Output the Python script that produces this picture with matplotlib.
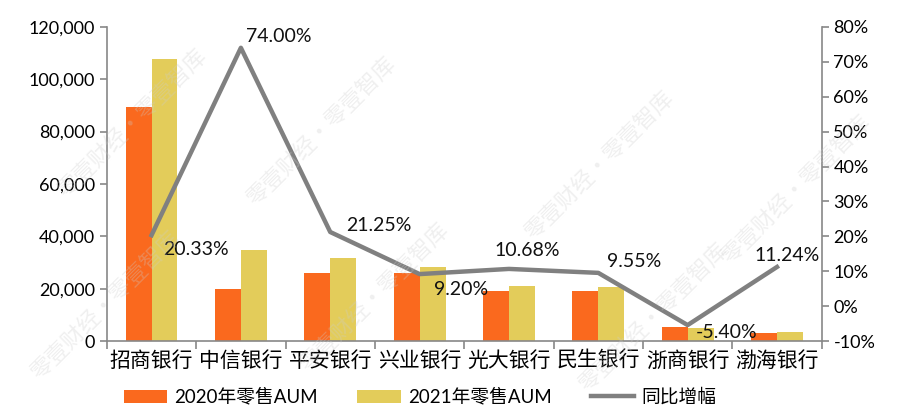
import matplotlib.pyplot as plt
from matplotlib.ticker import FuncFormatter
import numpy as np

plt.rcParams['font.family'] = ['Lato', 'Noto Sans CJK SC', 'DejaVu Sans']

banks = ['招商银行', '中信银行', '平安银行', '兴业银行', '光大银行', '民生银行', '浙商银行', '渤海银行']
aum_2020 = [89500, 20000, 26100, 26000, 19000, 19000, 5500, 3000]
aum_2021 = [107600, 34800, 31600, 28400, 21000, 20800, 5200, 3300]
growth = [20.33, 74.00, 21.25, 9.20, 10.68, 9.55, -5.40, 11.24]
# label offsets in points (dx, dy)
label_off = [(32, -10), (27, 8), (35, 5), (30, -11), (13, 13), (26, 8), (28, -5), (7, 8)]

c2020 = '#FA691E'
c2021 = '#E3CC5A'
cline = '#808080'
axc = '#888888'

fig = plt.figure(figsize=(8.98, 4.13), dpi=100)

# watermark
for x0, y0 in [(0.03, 0.08), (0.27, 0.50), (0.33, 0.10), (0.58, 0.42), (0.64, 0.05), (0.80, 0.36), (0.06, 0.52)]:
    fig.text(x0, y0, '零壹财经·零壹智库', rotation=45, fontsize=16, color='#cccccc',
             alpha=0.3, family=['Noto Sans CJK SC'], zorder=0)

ax = fig.add_axes([0.119, 0.174, 0.796, 0.761])
ax.patch.set_alpha(0)
x = np.arange(len(banks))
w = 0.29
ax.bar(x - w / 2, aum_2020, w, color=c2020, label='2020年零售AUM', zorder=2)
ax.bar(x + w / 2, aum_2021, w, color=c2021, label='2021年零售AUM', zorder=2)
ax.set_xlim(-0.5, len(banks) - 0.5)
ax.set_ylim(0, 120000)
ax.set_yticks(np.arange(0, 120001, 20000))
ax.yaxis.set_major_formatter(FuncFormatter(lambda v, p: f'{int(v):,}'))
ax.set_xticks(x)
ax.set_xticklabels(banks, fontsize=15)
ax.set_xticks(np.arange(-0.5, len(banks), 1), minor=True)
ax.tick_params(axis='x', which='major', length=0, pad=7)
ax.tick_params(axis='x', which='minor', length=6, color=axc, width=1.2)
ax.tick_params(axis='y', labelsize=13, length=5, color=axc, width=1.2)
for s in ['top', 'right']:
    ax.spines[s].set_visible(False)
for s in ['left', 'bottom']:
    ax.spines[s].set_color(axc)
    ax.spines[s].set_linewidth(1.2)

ax2 = ax.twinx()
ax2.plot(x, growth, color=cline, lw=3.2, label='同比增幅', zorder=3)
ax2.set_ylim(-10, 80)
ax2.set_yticks(np.arange(-10, 81, 10))
ax2.yaxis.set_major_formatter(FuncFormatter(lambda v, p: f'{int(v)}%'))
ax2.tick_params(axis='y', labelsize=13, length=5, color=axc, width=1.2)
for s in ['top', 'left', 'bottom']:
    ax2.spines[s].set_visible(False)
ax2.spines['right'].set_color(axc)
ax2.spines['right'].set_linewidth(1.2)

for xi, g, (dx, dy) in zip(x, growth, label_off):
    ax2.annotate(f'{g:.2f}%', (xi, g), xytext=(dx, dy), textcoords='offset points',
                 ha='center', va='center', fontsize=14, color='#111111', zorder=4)

h1, l1 = ax.get_legend_handles_labels()
h2, l2 = ax2.get_legend_handles_labels()
fig.legend(h1 + h2, l1 + l2, loc='center', bbox_to_anchor=(0.468, 0.039), ncol=3,
           frameon=False, fontsize=13.5, handlelength=2.3, columnspacing=2.1, handletextpad=0.4)

fig.savefig('out.png', dpi=100)
